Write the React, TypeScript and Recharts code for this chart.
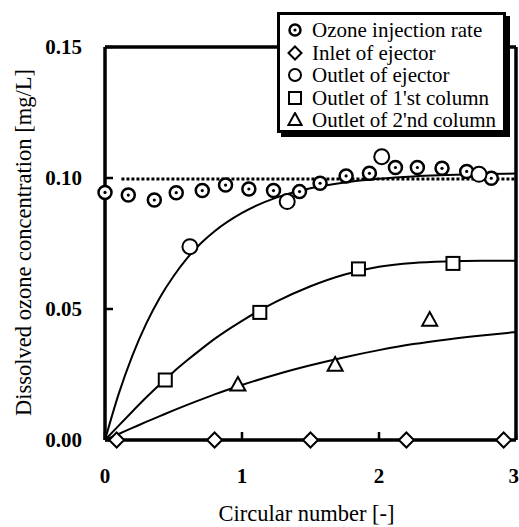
import React from 'react';
import { ComposedChart, Line, Scatter, XAxis, YAxis, ReferenceLine, Legend, Label } from 'recharts';

const FONT = '"Liberation Serif", "Times New Roman", serif';

// measured points
const ozoneX = [0, 0.17, 0.36, 0.52, 0.71, 0.88, 1.05, 1.23, 1.42, 1.57, 1.76, 1.93, 2.12, 2.28, 2.46, 2.64, 2.82];
const ozoneY = [0.0945, 0.0935, 0.0916, 0.0944, 0.0952, 0.0973, 0.0958, 0.0952, 0.0948, 0.098, 0.1008, 0.1018, 0.104, 0.104, 0.1037, 0.1025, 0.0999];

const inletX = [0.085, 0.8, 1.5, 2.2, 2.91];
const inletY = [0, 0, 0, 0, 0];

const ejectorX = [0.62, 1.33, 2.02, 2.73];
const ejectorY = [0.0738, 0.091, 0.1081, 0.1014];

const col1X = [0.44, 1.13, 1.85, 2.54];
const col1Y = [0.0229, 0.0487, 0.0653, 0.0674];

const col2X = [0.97, 1.68, 2.37];
const col2Y = [0.021, 0.0286, 0.0458];

// fitted curves
const curveX = [0, 0.1, 0.2, 0.3, 0.4, 0.5, 0.6, 0.7, 0.8, 1.0, 1.25, 1.5, 1.75, 2.0, 2.25, 2.5, 2.75, 3.0];
const ejectorCurve = [0, 0.0176, 0.0322, 0.0443, 0.0543, 0.0625, 0.0694, 0.0751, 0.0797, 0.0867, 0.0925, 0.0961, 0.0983, 0.0997, 0.1006, 0.1011, 0.1015, 0.1017];
const col1Curve = [0, 0.0055, 0.0109, 0.0162, 0.0212, 0.026, 0.0304, 0.0346, 0.0386, 0.0455, 0.0528, 0.0587, 0.0632, 0.0661, 0.0676, 0.0682, 0.0684, 0.0684];
const col2Curve = [0, 0.0023, 0.0046, 0.0069, 0.0091, 0.0113, 0.0134, 0.0154, 0.0174, 0.021, 0.025, 0.0285, 0.0316, 0.0343, 0.0366, 0.0384, 0.0399, 0.0412];

// dotted reference level
const refX = [0.12, 3];
const refY = [0.0996, 0.0996];

const xTicks = [0, 1, 2, 3];
const yTicks = [0, 0.05, 0.1, 0.15];

const toPoints = (xs, ys) => xs.map((x, i) => ({ x, y: ys[i] }));

const DotCircle = ({ cx, cy, r = 6.5 }) => (
  <g>
    <circle cx={cx} cy={cy} r={r} fill="#fff" stroke="#000" strokeWidth={2.5} />
    <circle cx={cx} cy={cy} r={1.6} fill="#000" />
  </g>
);
const OpenCircle = ({ cx, cy, r = 7.5 }) => (
  <circle cx={cx} cy={cy} r={r} fill="#fff" stroke="#000" strokeWidth={2} />
);
const Square = ({ cx, cy, s = 6.5 }) => (
  <rect x={cx - s} y={cy - s} width={s * 2} height={s * 2} fill="#fff" stroke="#000" strokeWidth={2} />
);
const Triangle = ({ cx, cy, s = 7.5 }) => (
  <path d={`M${cx},${cy - s - 0.5}L${cx + s},${cy + s * 0.75}L${cx - s},${cy + s * 0.75}Z`} fill="#fff" stroke="#000" strokeWidth={2} />
);
const Diamond = ({ cx, cy, s = 7.5 }) => (
  <path d={`M${cx},${cy - s}L${cx + s},${cy}L${cx},${cy + s}L${cx - s},${cy}Z`} fill="#fff" stroke="#000" strokeWidth={2} />
);

const LEGEND_ROWS = [
  { label: 'Ozone injection rate', Icon: DotCircle, size: 5.5 },
  { label: 'Inlet of ejector', Icon: Diamond, size: 6.5 },
  { label: 'Outlet of ejector', Icon: OpenCircle, size: 6 },
  { label: "Outlet of 1'st column", Icon: Square, size: 6 },
  { label: "Outlet of 2'nd column", Icon: Triangle, size: 6.5 },
];

function LegendBox() {
  return (
    <div
      style={{
        boxSizing: 'border-box',
        width: 229,
        height: 121,
        border: '3px solid #000',
        boxShadow: '4px 4px 0 #000',
        background: '#fff',
        paddingTop: 4,
        fontFamily: FONT,
        fontSize: 21,
        color: '#000',
      }}
    >
      {LEGEND_ROWS.map(({ label, Icon, size }) => (
        <div key={label} style={{ display: 'flex', alignItems: 'center', height: 22.5, whiteSpace: 'nowrap' }}>
          <svg width={16} height={16} style={{ marginLeft: 7, marginRight: 9 }}>
            {Icon === DotCircle && <Icon cx={8} cy={8} r={size} />}
            {Icon === OpenCircle && <Icon cx={8} cy={8} r={size} />}
            {Icon !== DotCircle && Icon !== OpenCircle && <Icon cx={8} cy={8} s={size} />}
          </svg>
          <span style={{ lineHeight: '22px' }}>{label}</span>
        </div>
      ))}
    </div>
  );
}

const XTitle = ({ viewBox }) => {
  const { x, width } = viewBox;
  return (
    <text x={x + width / 2 - 4} y={521} textAnchor="middle" fontFamily={FONT} fontSize={22.5} fill="#000">
      Circular number [-]
    </text>
  );
};

const YTitle = ({ viewBox }) => {
  const { y, height } = viewBox;
  const cy = y + height / 2 - 1;
  return (
    <text x={23} y={cy} transform={`rotate(-90, 23, ${cy})`} textAnchor="middle" dominantBaseline="central" fontFamily={FONT} fontSize={22.5} fill="#000">
      Dissolved ozone concentration [mg/L]
    </text>
  );
};

const tickStyle = { fontSize: 21, fontWeight: 'bold', fill: '#000', fontFamily: FONT };

export default function App() {
  return (
    <div style={{ position: 'absolute', left: 0, top: 0, width: 519, height: 527, background: '#fff' }}>
      <ComposedChart width={519} height={527} margin={{ top: 47, right: 3, bottom: 0, left: 0 }} style={{ fontFamily: FONT }}>
        <XAxis
          dataKey="x"
          type="number"
          domain={[0, 3]}
          ticks={xTicks}
          height={87}
          tickSize={-8}
          tickMargin={36}
          tick={tickStyle}
          axisLine={{ stroke: '#000', strokeWidth: 3.5 }}
          tickLine={{ stroke: '#000', strokeWidth: 2.5 }}
        >
          <Label content={XTitle} />
        </XAxis>
        <YAxis
          dataKey="y"
          type="number"
          domain={[0, 0.15]}
          ticks={yTicks}
          width={105}
          tickSize={-8}
          tickMargin={31}
          tickFormatter={(v) => v.toFixed(2)}
          tick={tickStyle}
          axisLine={{ stroke: '#000', strokeWidth: 3.5 }}
          tickLine={{ stroke: '#000', strokeWidth: 2.5 }}
        >
          <Label content={YTitle} />
        </YAxis>
        <ReferenceLine y={0.15} stroke="#000" strokeWidth={3.5} />
        <ReferenceLine x={3} stroke="#000" strokeWidth={3.5} />

        <Line data={toPoints(curveX, ejectorCurve)} dataKey="y" type="monotone" stroke="#000" strokeWidth={2} dot={false} isAnimationActive={false} legendType="none" />
        <Line data={toPoints(curveX, col1Curve)} dataKey="y" type="monotone" stroke="#000" strokeWidth={2} dot={false} isAnimationActive={false} legendType="none" />
        <Line data={toPoints(curveX, col2Curve)} dataKey="y" type="monotone" stroke="#000" strokeWidth={2} dot={false} isAnimationActive={false} legendType="none" />
        <Line data={toPoints(refX, refY)} dataKey="y" type="linear" stroke="#000" strokeWidth={3} strokeDasharray="3 2" dot={false} isAnimationActive={false} legendType="none" />

        <Scatter name="Ozone injection rate" data={toPoints(ozoneX, ozoneY)} dataKey="y" shape={DotCircle} isAnimationActive={false} />
        <Scatter name="Inlet of ejector" data={toPoints(inletX, inletY)} dataKey="y" shape={Diamond} isAnimationActive={false} />
        <Scatter name="Outlet of ejector" data={toPoints(ejectorX, ejectorY)} dataKey="y" shape={OpenCircle} isAnimationActive={false} />
        <Scatter name="Outlet of 1'st column" data={toPoints(col1X, col1Y)} dataKey="y" shape={Square} isAnimationActive={false} />
        <Scatter name="Outlet of 2'nd column" data={toPoints(col2X, col2Y)} dataKey="y" shape={Triangle} isAnimationActive={false} />

        <Legend
          layout="vertical"
          align="center"
          verticalAlign="middle"
          content={() => <LegendBox />}
          wrapperStyle={{ left: 277, top: 12, width: 233, height: 125 }}
        />
      </ComposedChart>
    </div>
  );
}
